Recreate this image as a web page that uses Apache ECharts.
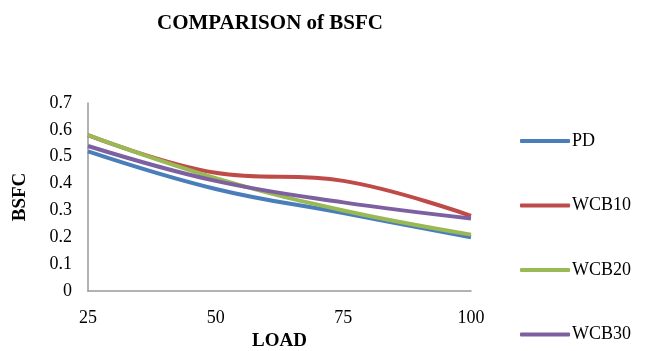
<!DOCTYPE html>
<html><head><meta charset="utf-8">
<script src="https://cdn.jsdelivr.net/npm/echarts@6/dist/echarts.min.js"></script>
<style>html,body{margin:0;padding:0;background:#fff}#c{width:651px;height:351px}</style>
</head><body><div id="c"></div>
<script>
const categories = ['25', '50', '75', '100'];
const PD = [0.52, 0.38, 0.29, 0.20];
const WCB10 = [0.58, 0.44, 0.41, 0.28];
const WCB20 = [0.58, 0.42, 0.30, 0.21];
const WCB30 = [0.54, 0.41, 0.33, 0.27];
const yTicks = {min: 0, max: 0.7, interval: 0.1};

const font = 'Liberation Serif';
const chart = echarts.init(document.getElementById('c'));
function s(name, data, color) {
  return {name, type: 'line', data, smooth: 0.4, symbol: 'none',
    lineStyle: {width: 4, color}, itemStyle: {color}};
}
chart.setOption({
  animation: false,
  title: {text: 'COMPARISON of BSFC', left: 265, top: 8, textAlign: 'center',
    textStyle: {fontFamily: font, fontSize: 21, fontWeight: 'bold', color: '#000'}},
  legend: {orient: 'vertical', left: 520, top: 132, height: 240, itemGap: 46.5, itemWidth: 50, itemHeight: 4,
    icon: 'roundRect', padding: 0,
    textStyle: {fontFamily: font, fontSize: 18, color: '#000', padding: [0,0,0,-3]},
    data: ['PD', 'WCB10', 'WCB20', 'WCB30']},
  grid: {left: 88, right: 180, top: 103, bottom: 60, outerBoundsMode: 'none', containLabel: false},
  xAxis: {type: 'category', data: categories, boundaryGap: false,
    name: 'LOAD', nameLocation: 'middle', nameGap: 37,
    nameTextStyle: {fontFamily: font, fontSize: 19, fontWeight: 'bold', color: '#000'},
    axisLine: {lineStyle: {color: '#999', width: 1.5}}, axisTick: {show: false},
    axisLabel: {fontFamily: font, fontSize: 18, color: '#000', margin: 18}},
  yAxis: {type: 'value', min: yTicks.min, max: yTicks.max, interval: yTicks.interval,
    name: 'BSFC', nameLocation: 'middle', nameGap: 58, nameRotate: 90,
    nameTextStyle: {fontFamily: font, fontSize: 19, fontWeight: 'bold', color: '#000'},
    axisLine: {show: true, lineStyle: {color: '#999', width: 1.5}}, axisTick: {show: false},
    splitLine: {show: false},
    axisLabel: {fontFamily: font, fontSize: 18, color: '#000', margin: 16,
      formatter: v => Math.round(v * 10) / 10 + ''}},
  series: [s('PD', PD, '#4A7EBB'), s('WCB10', WCB10, '#BE4B48'),
           s('WCB20', WCB20, '#98B954'), s('WCB30', WCB30, '#7D60A0')]
});
</script></body></html>
